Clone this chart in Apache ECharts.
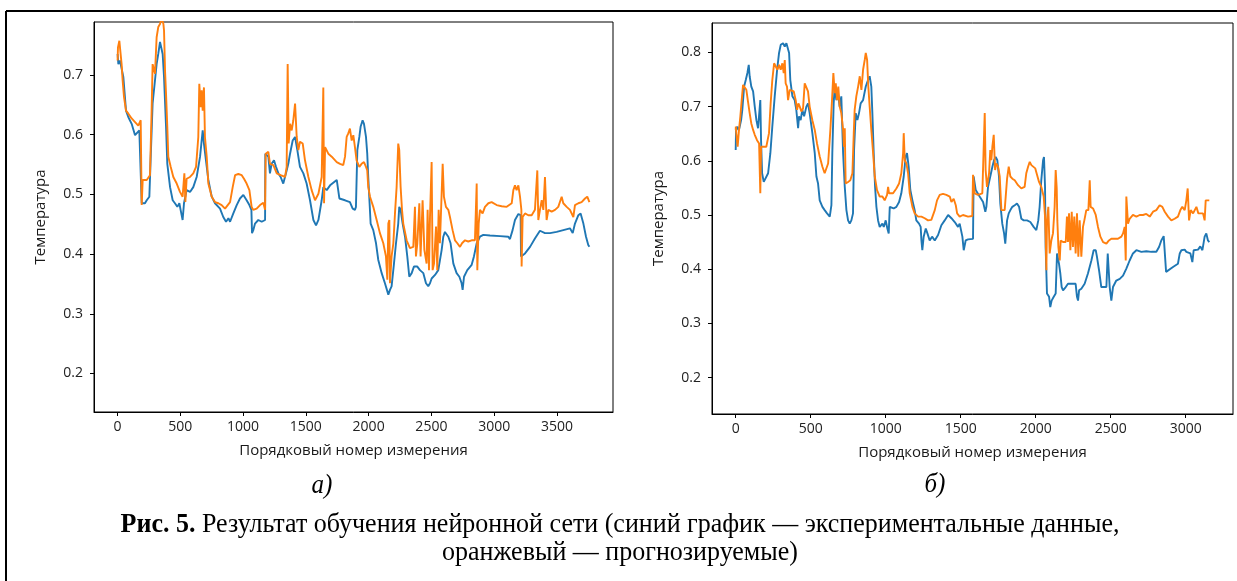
<!DOCTYPE html>
<html>
<head>
<meta charset="utf-8">
<script src="https://cdn.jsdelivr.net/npm/echarts@6/dist/echarts.min.js"></script>
<style>
  html, body { margin: 0; padding: 0; background: #fff; }
  #main { width: 1237px; height: 581px; }
</style>
</head>
<body>
<div id="main"></div>
<script>
// a) measured (blue) and predicted (orange), [index, temperature]
const leftMeasured = [
  [0,0.735],[6,0.718],[19,0.724],[32,0.721],[46,0.696],[67,0.640],[86,0.629],[112,0.618],[139,0.599],[152,0.596],
  [173,0.607],[184,0.610],[192,0.485],[218,0.485],[232,0.490],[253,0.496],[263,0.557],[279,0.652],[298,0.691],[311,0.718],
  [324,0.735],[338,0.755],[351,0.757],[359,0.735],[370,0.696],[386,0.613],[396,0.551],[418,0.512],[439,0.490],[457,0.485],
  [476,0.479],[492,0.485],[502,0.474],[518,0.457],[529,0.485],[550,0.507],[577,0.504],[603,0.512],[630,0.529],[657,0.563],
  [678,0.607],[688,0.585],[704,0.557],[723,0.524],[750,0.496],[776,0.485],[816,0.476],[842,0.462],[864,0.454],[883,0.460],
  [896,0.454],[922,0.468],[949,0.482],[975,0.493],[1002,0.499],[1028,0.490],[1050,0.482],[1066,0.474],[1071,0.435],[1081,0.440],
  [1095,0.451],[1121,0.457],[1148,0.454],[1175,0.457],[1177,0.568],[1201,0.563],[1214,0.535],[1227,0.551],[1246,0.557],[1262,0.546],
  [1281,0.535],[1299,0.529],[1320,0.518],[1347,0.540],[1360,0.551],[1374,0.568],[1395,0.590],[1414,0.596],[1432,0.574],[1453,0.546],
  [1480,0.535],[1506,0.518],[1533,0.490],[1560,0.457],[1581,0.448],[1600,0.457],[1626,0.490],[1639,0.512],[1666,0.507],[1693,0.515],
  [1746,0.524],[1767,0.493],[1812,0.490],[1851,0.487],[1873,0.476],[1891,0.474],[1899,0.479],[1910,0.574],[1926,0.596],[1936,0.613],
  [1952,0.624],[1963,0.618],[1979,0.596],[1989,0.568],[1997,0.529],[2005,0.496],[2016,0.451],[2037,0.440],[2059,0.418],[2077,0.390],
  [2104,0.368],[2130,0.351],[2157,0.332],[2170,0.340],[2183,0.346],[2202,0.384],[2218,0.418],[2236,0.451],[2244,0.479],[2255,0.474],
  [2271,0.451],[2290,0.429],[2308,0.396],[2324,0.362],[2343,0.368],[2361,0.379],[2388,0.379],[2409,0.373],[2436,0.368],[2457,0.351],
  [2475,0.346],[2489,0.351],[2502,0.359],[2529,0.365],[2555,0.373],[2582,0.407],[2595,0.429],[2608,0.437],[2635,0.429],[2653,0.418],
  [2675,0.384],[2701,0.368],[2723,0.362],[2741,0.351],[2749,0.340],[2760,0.362],[2786,0.373],[2821,0.382],[2839,0.396],[2861,0.418],
  [2874,0.423],[2887,0.429],[2914,0.432],[2967,0.431],[3047,0.430],[3113,0.429],[3126,0.425],[3147,0.440],[3166,0.457],[3193,0.467],
  [3211,0.465],[3214,0.396],[3246,0.401],[3286,0.412],[3325,0.426],[3365,0.439],[3405,0.435],[3445,0.435],[3498,0.437],[3551,0.440],
  [3604,0.443],[3626,0.435],[3644,0.451],[3671,0.465],[3689,0.468],[3711,0.451],[3732,0.429],[3750,0.415],[3759,0.412]
];
const leftPredicted = [
  [0,0.724],[3,0.746],[14,0.757],[24,0.735],[32,0.718],[40,0.691],[51,0.663],[67,0.640],[86,0.635],[112,0.627],
  [139,0.621],[165,0.615],[184,0.624],[192,0.482],[200,0.524],[232,0.524],[258,0.532],[271,0.640],[279,0.718],[298,0.702],
  [311,0.763],[324,0.780],[338,0.785],[351,0.795],[365,0.785],[370,0.774],[378,0.707],[386,0.668],[396,0.613],[404,0.563],
  [423,0.546],[444,0.529],[471,0.518],[497,0.504],[518,0.496],[532,0.535],[540,0.487],[550,0.526],[577,0.529],[603,0.535],
  [625,0.546],[643,0.596],[651,0.685],[662,0.646],[670,0.674],[678,0.640],[688,0.679],[696,0.596],[710,0.563],[723,0.518],
  [750,0.496],[776,0.487],[803,0.485],[829,0.482],[856,0.476],[869,0.479],[896,0.487],[917,0.512],[936,0.532],[962,0.534],
  [989,0.532],[1007,0.526],[1028,0.518],[1050,0.507],[1068,0.479],[1081,0.474],[1108,0.476],[1135,0.482],[1161,0.486],[1175,0.474],
  [1180,0.568],[1201,0.571],[1214,0.551],[1241,0.549],[1268,0.535],[1299,0.532],[1334,0.529],[1347,0.546],[1355,0.718],[1363,0.585],
  [1374,0.618],[1387,0.607],[1400,0.624],[1414,0.652],[1427,0.596],[1440,0.574],[1453,0.588],[1475,0.585],[1493,0.557],[1520,0.529],
  [1546,0.507],[1573,0.490],[1600,0.501],[1626,0.529],[1639,0.679],[1645,0.485],[1653,0.579],[1679,0.568],[1706,0.563],[1746,0.554],
  [1772,0.551],[1798,0.549],[1812,0.563],[1825,0.596],[1838,0.602],[1851,0.610],[1865,0.590],[1878,0.599],[1891,0.579],[1904,0.557],
  [1926,0.546],[1944,0.551],[1963,0.554],[1979,0.546],[1989,0.540],[1997,0.512],[2011,0.496],[2037,0.479],[2064,0.457],[2090,0.435],
  [2117,0.418],[2138,0.396],[2149,0.357],[2157,0.451],[2165,0.457],[2170,0.351],[2183,0.396],[2197,0.418],[2210,0.468],[2223,0.512],
  [2236,0.585],[2244,0.574],[2255,0.512],[2266,0.474],[2276,0.451],[2303,0.423],[2329,0.410],[2356,0.412],[2369,0.479],[2377,0.396],
  [2388,0.418],[2404,0.485],[2414,0.396],[2430,0.490],[2444,0.407],[2462,0.384],[2470,0.474],[2481,0.373],[2489,0.462],[2502,0.554],
  [2510,0.373],[2521,0.384],[2537,0.446],[2547,0.373],[2558,0.474],[2568,0.418],[2590,0.551],[2600,0.496],[2616,0.479],[2635,0.474],
  [2648,0.462],[2669,0.440],[2688,0.423],[2707,0.418],[2728,0.412],[2744,0.418],[2768,0.423],[2794,0.421],[2821,0.423],[2847,0.423],
  [2861,0.518],[2866,0.373],[2877,0.451],[2887,0.474],[2908,0.468],[2927,0.479],[2954,0.485],[2980,0.487],[3020,0.482],[3060,0.480],
  [3100,0.479],[3140,0.485],[3153,0.507],[3166,0.515],[3179,0.507],[3193,0.515],[3206,0.496],[3217,0.474],[3219,0.379],[3227,0.462],
  [3246,0.468],[3272,0.465],[3299,0.465],[3325,0.474],[3344,0.540],[3352,0.457],[3365,0.474],[3379,0.490],[3392,0.474],[3405,0.529],
  [3418,0.457],[3432,0.474],[3458,0.471],[3485,0.474],[3511,0.479],[3538,0.496],[3551,0.485],[3578,0.479],[3604,0.474],[3631,0.462],
  [3644,0.482],[3671,0.485],[3697,0.487],[3724,0.493],[3742,0.496],[3759,0.487]
];

// б) measured (blue) and predicted (orange)
const rightMeasured = [
  [0,0.620],[2,0.654],[9,0.663],[22,0.657],[36,0.675],[44,0.694],[56,0.737],[67,0.749],[78,0.762],[87,0.777],
  [93,0.756],[104,0.737],[116,0.728],[127,0.700],[138,0.675],[149,0.660],[160,0.660],[164,0.712],[169,0.638],[176,0.577],
  [187,0.561],[200,0.564],[216,0.577],[231,0.614],[244,0.663],[260,0.719],[276,0.768],[289,0.799],[300,0.814],[316,0.817],
  [327,0.811],[338,0.817],[349,0.820],[356,0.799],[364,0.749],[378,0.719],[393,0.712],[404,0.694],[416,0.660],[422,0.682],
  [433,0.675],[444,0.694],[456,0.682],[471,0.700],[482,0.706],[493,0.688],[511,0.651],[527,0.614],[538,0.571],[549,0.558],
  [560,0.527],[578,0.515],[593,0.509],[609,0.503],[627,0.497],[638,0.518],[644,0.614],[653,0.706],[660,0.737],[671,0.712],
  [682,0.725],[693,0.700],[704,0.719],[716,0.614],[727,0.552],[738,0.509],[749,0.490],[760,0.484],[771,0.490],[782,0.503],
  [789,0.620],[800,0.688],[811,0.675],[822,0.688],[833,0.706],[849,0.712],[867,0.737],[882,0.749],[893,0.756],[904,0.737],
  [911,0.688],[920,0.614],[929,0.552],[938,0.515],[949,0.490],[960,0.478],[971,0.481],[978,0.484],[987,0.478],[1000,0.490],
  [1011,0.475],[1020,0.466],[1027,0.515],[1038,0.518],[1053,0.512],[1071,0.515],[1089,0.524],[1104,0.540],[1120,0.571],[1133,0.608],
  [1142,0.614],[1153,0.589],[1164,0.546],[1178,0.527],[1193,0.509],[1204,0.490],[1222,0.484],[1233,0.478],[1238,0.453],[1244,0.435],
  [1253,0.460],[1267,0.475],[1278,0.466],[1293,0.453],[1309,0.460],[1327,0.453],[1349,0.463],[1371,0.481],[1393,0.490],[1416,0.500],
  [1438,0.494],[1460,0.487],[1482,0.478],[1493,0.484],[1511,0.460],[1520,0.435],[1533,0.453],[1549,0.455],[1582,0.456],[1586,0.571],
  [1600,0.546],[1626,0.534],[1649,0.524],[1664,0.506],[1671,0.515],[1682,0.552],[1697,0.571],[1711,0.589],[1722,0.601],[1733,0.607],
  [1744,0.601],[1755,0.571],[1764,0.521],[1777,0.484],[1789,0.466],[1797,0.447],[1809,0.490],[1820,0.503],[1831,0.509],[1844,0.515],
  [1860,0.518],[1875,0.521],[1889,0.515],[1904,0.493],[1920,0.490],[1942,0.490],[1964,0.487],[1986,0.478],[2004,0.472],[2017,0.490],
  [2026,0.515],[2037,0.564],[2049,0.601],[2055,0.607],[2062,0.552],[2066,0.441],[2075,0.355],[2089,0.349],[2097,0.330],[2106,0.342],
  [2120,0.349],[2133,0.355],[2142,0.429],[2155,0.410],[2164,0.392],[2173,0.367],[2182,0.361],[2200,0.367],[2215,0.373],[2237,0.373],
  [2248,0.376],[2266,0.373],[2275,0.349],[2282,0.342],[2289,0.361],[2304,0.364],[2326,0.373],[2348,0.392],[2371,0.416],[2386,0.435],
  [2400,0.435],[2408,0.423],[2422,0.398],[2437,0.367],[2453,0.367],[2471,0.367],[2480,0.429],[2486,0.432],[2493,0.367],[2504,0.342],
  [2515,0.367],[2537,0.379],[2560,0.382],[2582,0.388],[2604,0.401],[2626,0.416],[2648,0.429],[2671,0.435],[2704,0.432],[2737,0.433],
  [2771,0.432],[2804,0.432],[2822,0.441],[2837,0.453],[2853,0.461],[2862,0.461],[2869,0.395],[2882,0.398],[2915,0.404],[2948,0.410],
  [2960,0.429],[2971,0.435],[2993,0.436],[3004,0.432],[3015,0.435],[3031,0.429],[3044,0.413],[3053,0.435],[3066,0.438],[3082,0.436],
  [3097,0.442],[3111,0.435],[3126,0.460],[3137,0.466],[3148,0.453],[3157,0.450]
];
const rightPredicted = [
  [0,0.657],[1,0.663],[4,0.651],[13,0.626],[22,0.657],[31,0.682],[40,0.712],[49,0.740],[60,0.743],[71,0.731],
  [82,0.709],[93,0.688],[104,0.669],[116,0.657],[127,0.648],[142,0.638],[156,0.632],[164,0.540],[169,0.626],[182,0.623],
  [204,0.626],[222,0.651],[233,0.706],[244,0.749],[256,0.780],[267,0.774],[278,0.768],[289,0.777],[300,0.768],[311,0.780],
  [320,0.762],[327,0.786],[333,0.743],[342,0.737],[349,0.712],[360,0.731],[371,0.728],[387,0.728],[400,0.712],[409,0.694],
  [418,0.706],[427,0.700],[438,0.691],[449,0.697],[460,0.743],[471,0.740],[482,0.728],[493,0.700],[511,0.675],[527,0.657],
  [542,0.632],[560,0.608],[578,0.589],[593,0.577],[604,0.580],[616,0.595],[631,0.657],[642,0.712],[651,0.762],[660,0.725],
  [667,0.743],[676,0.712],[684,0.737],[693,0.700],[704,0.688],[716,0.657],[722,0.626],[727,0.660],[733,0.558],[749,0.561],
  [764,0.564],[778,0.577],[787,0.651],[793,0.694],[804,0.719],[816,0.737],[827,0.756],[838,0.731],[849,0.768],[860,0.786],
  [867,0.799],[876,0.786],[884,0.737],[893,0.700],[904,0.657],[916,0.614],[927,0.571],[942,0.546],[960,0.534],[978,0.534],
  [993,0.527],[1009,0.537],[1016,0.552],[1022,0.540],[1033,0.537],[1049,0.540],[1071,0.549],[1089,0.558],[1104,0.577],[1116,0.614],
  [1120,0.651],[1127,0.601],[1138,0.595],[1149,0.577],[1160,0.540],[1178,0.515],[1193,0.503],[1216,0.497],[1238,0.497],[1260,0.494],
  [1282,0.490],[1304,0.491],[1327,0.509],[1342,0.527],[1360,0.537],[1382,0.539],[1404,0.537],[1427,0.534],[1438,0.524],[1453,0.530],
  [1467,0.518],[1476,0.503],[1493,0.497],[1515,0.500],[1549,0.497],[1577,0.498],[1582,0.574],[1593,0.540],[1615,0.537],[1644,0.540],
  [1660,0.688],[1666,0.583],[1675,0.552],[1689,0.577],[1697,0.620],[1704,0.601],[1711,0.626],[1720,0.648],[1729,0.583],[1737,0.595],
  [1749,0.589],[1760,0.571],[1771,0.509],[1782,0.506],[1793,0.509],[1809,0.567],[1820,0.589],[1831,0.571],[1844,0.567],[1860,0.564],
  [1882,0.555],[1904,0.549],[1926,0.552],[1937,0.577],[1949,0.589],[1960,0.598],[1971,0.592],[1982,0.595],[1997,0.586],[2009,0.574],
  [2022,0.561],[2037,0.552],[2053,0.534],[2062,0.497],[2066,0.460],[2071,0.398],[2075,0.490],[2084,0.515],[2093,0.429],[2104,0.453],
  [2115,0.466],[2126,0.515],[2133,0.583],[2140,0.549],[2144,0.490],[2151,0.441],[2160,0.416],[2166,0.453],[2182,0.450],[2200,0.450],
  [2208,0.497],[2215,0.450],[2222,0.503],[2231,0.435],[2240,0.506],[2248,0.441],[2257,0.497],[2266,0.429],[2275,0.503],[2284,0.423],
  [2293,0.490],[2304,0.423],[2315,0.478],[2324,0.490],[2337,0.509],[2351,0.509],[2360,0.564],[2366,0.515],[2382,0.512],[2400,0.500],
  [2415,0.478],[2431,0.460],[2449,0.450],[2471,0.447],[2488,0.453],[2504,0.456],[2526,0.456],[2548,0.456],[2571,0.460],[2582,0.466],
  [2593,0.478],[2600,0.416],[2604,0.534],[2615,0.484],[2626,0.493],[2648,0.500],[2671,0.497],[2693,0.500],[2715,0.500],[2737,0.502],
  [2760,0.497],[2782,0.506],[2804,0.509],[2826,0.518],[2844,0.515],[2860,0.506],[2882,0.497],[2904,0.490],[2926,0.493],[2948,0.497],
  [2964,0.509],[2977,0.515],[2993,0.509],[3004,0.527],[3013,0.549],[3022,0.490],[3033,0.509],[3049,0.503],[3071,0.515],[3084,0.503],
  [3097,0.506],[3115,0.503],[3126,0.490],[3133,0.527],[3142,0.530],[3157,0.527]
];

const leftXTicks = [0, 500, 1000, 1500, 2000, 2500, 3000, 3500];
const rightXTicks = [0, 500, 1000, 1500, 2000, 2500, 3000];
const leftYTicks = [0.2, 0.3, 0.4, 0.5, 0.6, 0.7];
const rightYTicks = [0.2, 0.3, 0.4, 0.5, 0.6, 0.7, 0.8];

const xName = 'Порядковый номер измерения';
const yName = 'Температура';
const blue = '#1f77b4';
const orange = '#ff7f0e';
const axisFont = 'Open Sans';

const chart = echarts.init(document.getElementById('main'), null, { renderer: 'canvas' });

function xAxis(grid, min, max, ticks) {
  return {
    type: 'value', gridIndex: grid, min: min, max: max,
    name: xName, nameLocation: 'middle', nameGap: 31,
    nameTextStyle: { fontFamily: axisFont, fontSize: 15, color: '#1a1a1a' },
    splitLine: { show: false },
    axisLine: { show: true, onZero: false, lineStyle: { color: '#000', width: 1 } },
    axisTick: { show: true, length: 4, customValues: ticks, lineStyle: { color: '#000' } },
    axisLabel: { customValues: ticks, margin: 8, fontFamily: axisFont, fontSize: 14, color: '#222',
      formatter: v => String(v) }
  };
}

function yAxis(grid, min, max, ticks) {
  return {
    type: 'value', gridIndex: grid, min: min, max: max,
    name: yName, nameLocation: 'middle', nameGap: 46, nameRotate: 90,
    nameTextStyle: { fontFamily: axisFont, fontSize: 15, color: '#1a1a1a' },
    splitLine: { show: false },
    axisLine: { show: true, onZero: false, lineStyle: { color: '#000', width: 1 } },
    axisTick: { show: true, length: 4, customValues: ticks, lineStyle: { color: '#000' } },
    axisLabel: { customValues: ticks, margin: 11, fontFamily: axisFont, fontSize: 14, color: '#222',
      formatter: v => v.toFixed(1) }
  };
}

function line(x, data, color, z) {
  return {
    type: 'line', xAxisIndex: x, yAxisIndex: x, data: data,
    showSymbol: false, symbol: 'none', animation: false, z: z,
    lineStyle: { color: color, width: 1.9 }
  };
}

const option = {
  animation: false,
  grid: [
    { left: 94, top: 22, width: 519, height: 390, show: true, borderColor: '#000', borderWidth: 1 },
    { left: 712, top: 23, width: 521, height: 391, show: true, borderColor: '#000', borderWidth: 1 }
  ],
  xAxis: [
    xAxis(0, -188, 3947, leftXTicks),
    xAxis(1, -158, 3315, rightXTicks)
  ],
  yAxis: [
    yAxis(0, 0.1355, 0.7885, leftYTicks),
    yAxis(1, 0.1327, 0.8543, rightYTicks)
  ],
  series: [
    line(0, leftMeasured, blue, 2),
    line(0, leftPredicted, orange, 3),
    line(1, rightMeasured, blue, 2),
    line(1, rightPredicted, orange, 3)
  ],
  graphic: [
    { type: 'line', shape: { x1: 6, y1: 11, x2: 1237, y2: 11 }, style: { stroke: '#000', lineWidth: 2 } },
    { type: 'line', shape: { x1: 6, y1: 11, x2: 6, y2: 581 }, style: { stroke: '#000', lineWidth: 2 } },
    { type: 'text', x: 322, y: 486, scaleY: 1.1,
      style: { text: 'а)', align: 'center', verticalAlign: 'middle',
        font: 'italic 25px "Liberation Serif"', fill: '#000' } },
    { type: 'text', x: 935, y: 485, scaleY: 1.1,
      style: { text: 'б)', align: 'center', verticalAlign: 'middle',
        font: 'italic 25px "Liberation Serif"', fill: '#000' } },
    { type: 'text', x: 620, y: 525, scaleY: 1.08,
      style: {
        text: '{b|Рис. 5.} Результат обучения нейронной сети (синий график — экспериментальные данные,',
        align: 'center', verticalAlign: 'middle', fill: '#000',
        fontFamily: 'Liberation Serif', fontSize: 26,
        rich: { b: { fontWeight: 'bold', fontFamily: 'Liberation Serif', fontSize: 26 } }
      } },
    { type: 'text', x: 620, y: 553, scaleY: 1.08,
      style: {
        text: 'оранжевый — прогнозируемые)',
        align: 'center', verticalAlign: 'middle', fill: '#000',
        fontFamily: 'Liberation Serif', fontSize: 26
      } }
  ]
};

chart.setOption(option);
</script>
</body>
</html>
